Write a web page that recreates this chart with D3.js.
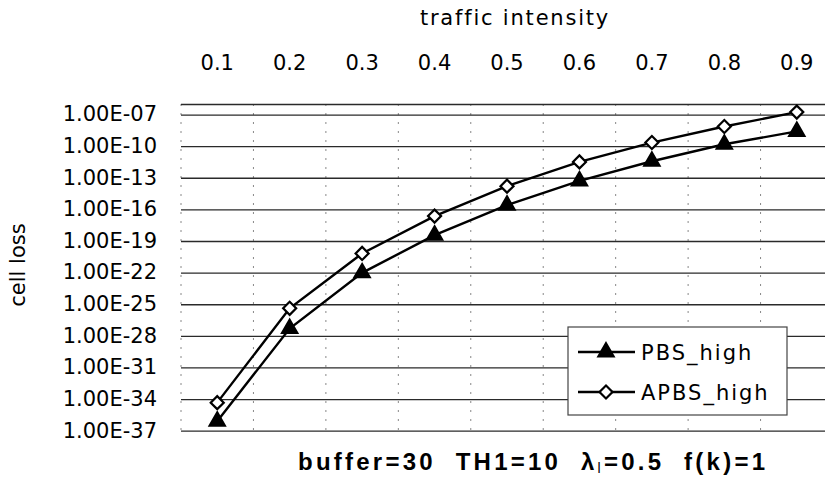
<!DOCTYPE html>
<html><head><meta charset="utf-8">
<script src="https://cdn.jsdelivr.net/npm/d3@7/dist/d3.min.js"></script>
<style>body{margin:0;background:#fff}svg{display:block}</style>
</head><body><svg id="c" width="825" height="490"></svg>
<script>
const categories = ["0.1","0.2","0.3","0.4","0.5","0.6","0.7","0.8","0.9"];
const pbsHigh  = [8e-37, 5e-28, 9.5e-23, 3.6e-19, 2.5e-16, 5e-14, 3.7e-12, 1.5e-10, 2.5e-9];
const apbsHigh = [4.6e-35, 4.1e-26, 6.6e-21, 2.3e-17, 1.6e-14, 3.2e-12, 2.2e-10, 7.3e-9, 1.7e-7];
const yTicks = [1e-7,1e-10,1e-13,1e-16,1e-19,1e-22,1e-25,1e-28,1e-31,1e-34,1e-37];
const yTickLabels = ["1.00E-07","1.00E-10","1.00E-13","1.00E-16","1.00E-19","1.00E-22","1.00E-25","1.00E-28","1.00E-31","1.00E-34","1.00E-37"];
const seriesNames = ["PBS_high","APBS_high"];
const xTitle = "traffic intensity";
const yTitle = "cell loss";

const svg = d3.select("#c");
const L = 181, R = 833, T = 104, B = 430.7, clipR = 825;
const x = d3.scaleBand().domain(categories).range([L, R]).padding(0);
const cx = c => x(c) + x.bandwidth()/2;
const y = d3.scaleLog().domain([1e-37, 1e-6]).range([B, T]);
const FONT = "'DejaVu Sans', sans-serif";

// vertical dotted category boundaries
svg.append("g").selectAll("line").data(categories).join("line")
  .attr("x1", d => x(d)).attr("x2", d => x(d))
  .attr("y1", T).attr("y2", B)
  .attr("stroke", "#888").attr("stroke-width", 1).attr("stroke-dasharray", "2,7");

// horizontal gridlines via axis
const grid = svg.append("g").attr("transform", `translate(${L},0)`)
  .call(d3.axisLeft(y).tickValues(yTicks.concat([1e-6])).tickSize(-(clipR - L)).tickFormat(""));
grid.select(".domain").remove();
grid.selectAll(".tick line").attr("stroke", "#2a2a2a").attr("stroke-width", 1.3);

// y axis labels
const ya = svg.append("g").attr("transform", `translate(${L},0)`)
  .call(d3.axisLeft(y).tickValues(yTicks).tickSize(0).tickPadding(24)
    .tickFormat((d,i) => yTickLabels[i]));
ya.select(".domain").remove();
ya.selectAll("text").attr("font-family", FONT).attr("font-size", 21).attr("fill", "#000").attr("dy", "0.3em");

// x axis on top
const xa = svg.append("g").attr("transform", `translate(0,70)`)
  .call(d3.axisTop(x).tickSize(0).tickPadding(0));
xa.select(".domain").remove();
xa.selectAll("text").attr("font-family", FONT).attr("font-size", 21).attr("fill", "#000");

// titles
svg.append("text").attr("x", 515).attr("y", 25).attr("text-anchor", "middle")
  .attr("font-family", FONT).attr("font-size", 21).attr("letter-spacing", 1.8).text(xTitle);
svg.append("text").attr("transform", "translate(25,265) rotate(-90)").attr("text-anchor", "middle")
  .attr("font-family", FONT).attr("font-size", 21).text(yTitle);

const bt = svg.append("text").attr("x", 298).attr("y", 470)
  .attr("font-family", "'Liberation Sans', Arial, sans-serif").attr("font-size", 24).attr("font-weight", "bold")
  .attr("xml:space", "preserve").attr("textLength", 467).attr("lengthAdjust", "spacing");
bt.append("tspan").text("buffer=30  TH1=10  \u03bb");
bt.append("tspan").attr("font-size", 14).attr("dy", 3).attr("font-weight", "normal").text("l");
bt.append("tspan").attr("dy", -3).text("=0.5  f(k)=1");

// series
const diamond = d3.symbol(d3.symbolSquare, 85)();
const series = [
  {name: seriesNames[0], values: pbsHigh, d: d3.symbol(d3.symbolTriangle, 100)(), rot: 0, fill: "#000"},
  {name: seriesNames[1], values: apbsHigh, d: diamond, rot: 45, fill: "#fff"}
];
const line = d3.line().x((d,i) => cx(categories[i])).y(d => y(d));
series.forEach(s => {
  svg.append("path").attr("d", line(s.values)).attr("fill", "none")
    .attr("stroke", "#000").attr("stroke-width", 2.4);
  svg.append("g").selectAll("path").data(s.values).join("path")
    .attr("transform", (d,i) => `translate(${cx(categories[i])},${y(d)}) rotate(${s.rot})`)
    .attr("d", s.d)
    .attr("fill", s.fill).attr("stroke", "#000").attr("stroke-width", 2.2);
});

// legend
const lg = svg.append("g");
lg.append("rect").attr("x", 568).attr("y", 327).attr("width", 219).attr("height", 88)
  .attr("fill", "#fff").attr("stroke", "#444").attr("stroke-width", 1.2);
series.forEach((s, i) => {
  const ly = 352 + i * 40;
  lg.append("line").attr("x1", 578).attr("x2", 635).attr("y1", ly).attr("y2", ly)
    .attr("stroke", "#000").attr("stroke-width", 2.4);
  lg.append("path").attr("transform", `translate(606,${ly}) rotate(${s.rot})`).attr("d", s.d)
    .attr("fill", s.fill).attr("stroke", "#000").attr("stroke-width", 2.2);
  lg.append("text").attr("x", 641).attr("y", ly + 8).attr("font-family", FONT).attr("font-size", 21)
    .attr("letter-spacing", 2).text(s.name);
});
</script></body></html>
